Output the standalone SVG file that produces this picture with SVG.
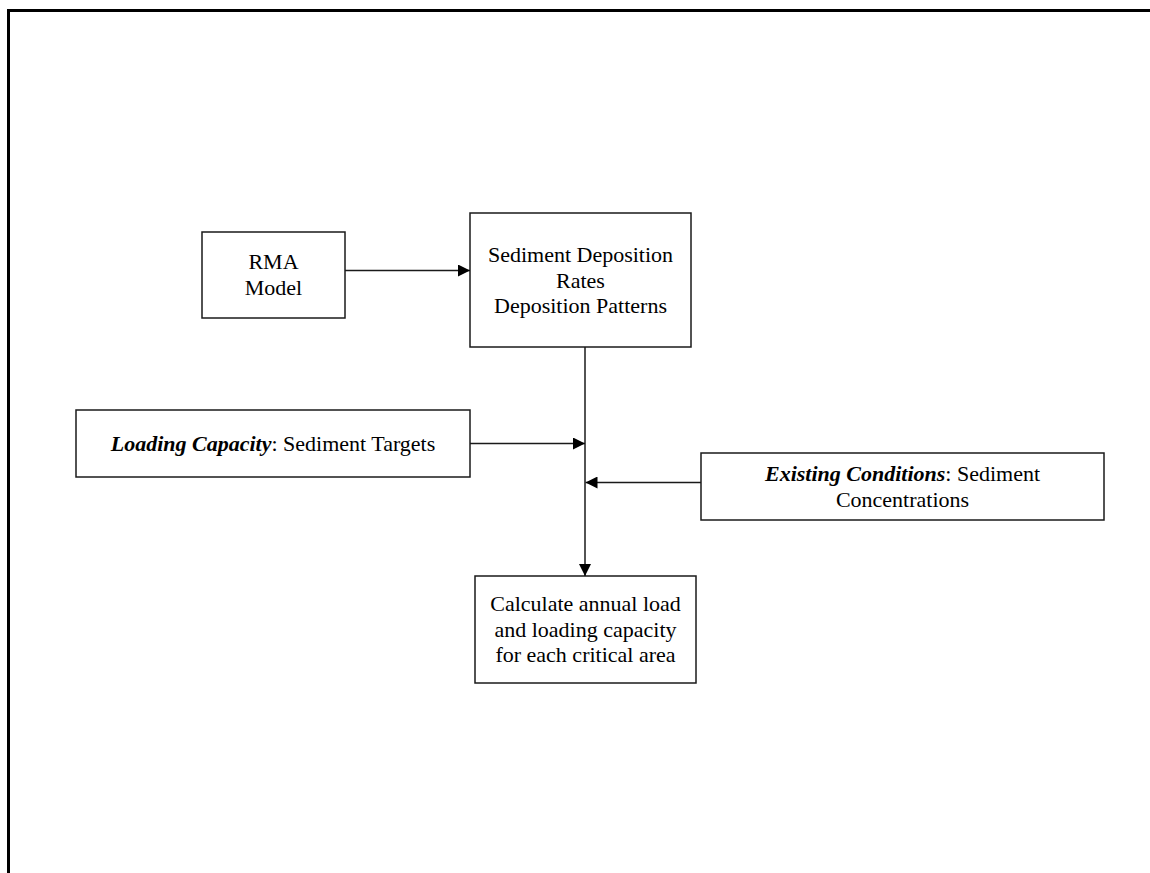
<svg xmlns="http://www.w3.org/2000/svg" width="1150" height="873" viewBox="0 0 1150 873">
<style>
.box{fill:#fff;stroke:#1a1a1a;stroke-width:1.5}
.t{font-family:"Liberation Serif","Times New Roman",serif;font-size:22px;fill:#000;text-anchor:middle}
.bi{font-weight:bold;font-style:italic}
.c{stroke:#1a1a1a;stroke-width:1.5;fill:none}
.frame{stroke:#000;stroke-width:3;fill:none}
</style>
<defs>
<marker id="ah" markerWidth="12" markerHeight="12" refX="12" refY="6" orient="auto" markerUnits="userSpaceOnUse">
<path d="M0,0 L12,6 L0,12 Z" fill="#000"/>
</marker>
</defs>
<rect width="1150" height="873" fill="#fff"/>
<path class="frame" d="M8.5,873 V10.5 H1150"/>
<g id="rma">
<rect class="box" x="202" y="232" width="143" height="86"/>
<text class="t" x="273.5" y="269">RMA</text>
<text class="t" x="273.5" y="295">Model</text>
</g>
<g id="sediment">
<rect class="box" x="470" y="213" width="221" height="134"/>
<text class="t" x="580.5" y="262">Sediment Deposition</text>
<text class="t" x="580.5" y="287.5">Rates</text>
<text class="t" x="580.5" y="313">Deposition Patterns</text>
</g>
<g id="loading">
<rect class="box" x="76" y="410" width="394" height="67"/>
<text class="t" x="273" y="451"><tspan class="bi">Loading Capacity</tspan>: Sediment Targets</text>
</g>
<g id="existing">
<rect class="box" x="701" y="453" width="403" height="67"/>
<text class="t" x="902.5" y="481"><tspan class="bi">Existing Conditions</tspan>: Sediment</text>
<text class="t" x="902.5" y="506.5">Concentrations</text>
</g>
<g id="calculate">
<rect class="box" x="475" y="576" width="221" height="107"/>
<text class="t" x="585.5" y="611">Calculate annual load</text>
<text class="t" x="585.5" y="636.5">and loading capacity</text>
<text class="t" x="585.5" y="662">for each critical area</text>
</g>
<g id="connectors">
<line class="c" x1="345" y1="270.5" x2="470" y2="270.5" marker-end="url(#ah)"/>
<line class="c" x1="585" y1="347" x2="585" y2="576" marker-end="url(#ah)"/>
<line class="c" x1="470" y1="443.5" x2="585" y2="443.5" marker-end="url(#ah)"/>
<line class="c" x1="701" y1="482.5" x2="585.5" y2="482.5" marker-end="url(#ah)"/>
</g>
</svg>
